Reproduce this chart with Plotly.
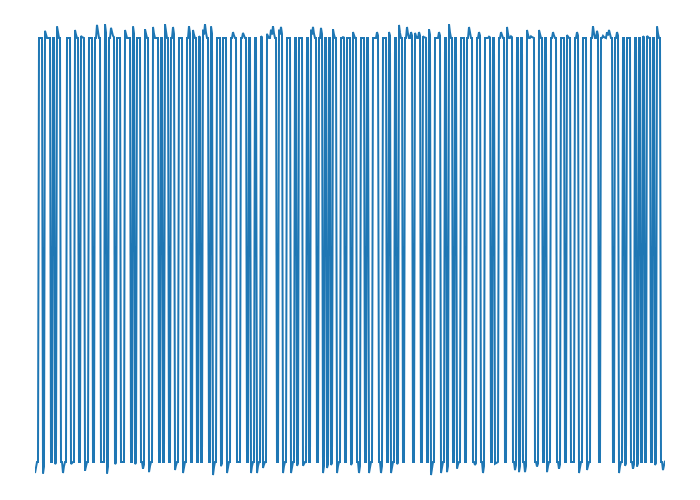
import plotly.graph_objects as go

# Signal values (one sample per step)
signal = [
    -0.026, -0.01, 0, 0, 1, 1, 1, 1, -0.028, -0.011, 1.017, 1.007, 1, 1, 1, 1, 0, 0, 1, 1,
    -0.005, -0.002, 1.028, 1.011, 1, 1, 0, 0, -0.026, -0.01, 0, 0, 1, 1, 1, 1, -0.005, -0.002, 0, 0,
    1.019, 1.008, 1, 1, 0, 0, 1.005, 1.002, 1, 1, -0.021, -0.008, 0, 0, 1, 1, 1, 1, 0, 0,
    1, 1, 1.031, 1.012, 1, 1, 0, 0, 0, 0, 1.033, 1.013, -0.028, -0.011, 1, 1, 1.024, 1.01, 1.005, 1.002,
    -0.005, -0.002, 1, 1, 1, 1, 0, 0, 0, 0, 1.019, 1.008, 1, 1, 1, 1, 0, 0, 1.028, 1.011,
    -0.005, -0.002, 1, 1, 1, 1, 0, 0, -0.016, -0.006, 1.021, 1.008, 1, 1, -0.024, -0.01, 0, 0, 1.026, 1.01,
    1, 1, 1, 1, 0, 0, 1, 1, 0, 0, 1.033, 1.013, 1, 1, 0, 0, 1, 1, 1.026, 1.01,
    -0.019, -0.008, 0, 0, 1, 1, 1, 1, -0.026, -0.01, 0, 0, 1, 1, 1.028, 1.011, 0, 0, 1.019, 1.008,
    1, 1, 0, 0, 1.004, 1.002, 0, 0, 1.02, 1.008, 1.033, 1.013, 1, 1, 0, 0, 1.028, 1.011, -0.031, -0.012,
    0, 0, 1, 1, 1, 1, -0.01, -0.004, 1, 1, 1, 1, -0.026, -0.01, 0, 0, 1, 1, 1.014, 1.006,
    1, 1, 0, 0, 0, 0, 1, 1, 1.012, 1.005, 1, 1, 0, 0, 1, 1, -0.026, -0.01, 0, 0,
    1, 1, -0.026, -0.01, 0, 0, 1.004, 1.002, -0.014, -0.006, 0, 0, 1.01, 1.004, 1, 1, 1.02, 1.008, 1.028, 1.011,
    1, 1, 0, 0, 1.02, 1.008, 1.026, 1.01, -0.026, -0.01, 0, 0, 1, 1, 1, 1, -0.026, -0.01, 0, 0,
    1, 1, -0.009, -0.004, 1, 1, 1, 1, -0.009, -0.004, 0, 0, 1, 1, 0, 0, 1.02, 1.008, 1.026, 1.01,
    1, 1, 0, 0, 1, 1, 1.024, 1.01, -0.026, -0.01, 1, 1, -0.014, -0.006, 1, 1, -0.007, -0.003, 1.021, 1.008,
    1, 1, -0.026, -0.01, 0, 0, 1, 1, 1.002, 1.001, 0, 0, 1, 1, 1, 1, -0.007, -0.003, 1.014, 1.006,
    1, 1, 0, 0, -0.026, -0.01, 1, 1, 1, 1, 0, 0, 1, 1, -0.026, -0.01, 0, 0, 1, 1,
    1, 1, 1.014, 1.006, 0, 0, -0.026, -0.01, 1, 1, 1, 1, 0, 0, 1.014, 1.006, -0.026, -0.01, 0, 0,
    1, 1, -0.005, -0.002, 1.031, 1.012, 1, 1, 0, 0, 1, 1, 1.026, 1.01, 1, 1, 1.014, 1.006, 0, 0,
    1.012, 1.005, 1, 1, 1.014, 1.006, 0, 0, 1.004, 1.002, 1, 1, 0, 0, 1.021, 1.008, -0.031, -0.012, 0, 0,
    1, 1, 1, 1, 1.014, 1.006, -0.026, -0.01, 0, 0, 1, 1, -0.024, -0.01, 1.033, 1.013, 1, 1, 0, 0,
    1, 1, -0.016, -0.006, 0, 0, 1, 1, 1, 1, 0, 0, 1, 1, 1.026, 1.01, 1, 1, 0, 0,
    -0.007, -0.003, 1, 1, 1.014, 1.006, 0, 0, -0.026, -0.01, 1, 1, 1, 1, 1.003, 1.001, 0, 0, 1, 1,
    -0.004, -0.002, 0, 0, 1, 1, 1.014, 1.006, 1, 1, 0, 0, 1.026, 1.01, 1, 1, 1.004, 1.002, 0, 0,
    -0.019, -0.008, 1, 1, -0.024, -0.01, 1, 1, 0, 0, -0.024, -0.01, 1.019, 1.008, 1, 1, 1.004, 1.002, 1, 1,
    0, 0, -0.011, -0.004, 1.019, 1.008, 1, 1, 0, 0, 1, 1, -0.024, -0.01, 0, 0, 1, 1, 1.014, 1.006,
    1, 1, 0, 0, -0.016, -0.006, 1, 1, 1, 1, 0, 0, 1.007, 1.003, 1, 1, 0, 0, 0, 0,
    1, 1, 1.014, 1.006, -0.026, -0.01, 0, 0, 1, 1, 1, 1, -0.019, -0.008, 0, 0, 1, 1, 1.028, 1.011,
    1, 1, 1.017, 1.007, 0, 0, 1, 1, 1.005, 1.002, 1, 1, 1.014, 1.006, 1.019, 1.008, 1, 1, 0, 0,
    1, 1, 1.014, 1.006, -0.026, -0.01, 0, 0, 1, 1, -0.009, -0.004, 1, 1, 1, 1, 0, 0, -0.016, -0.006,
    1, 1, -0.011, -0.004, 1, 1, 0, 0, 1.004, 1.002, 0, 0, 1.005, 1.002, 1, 1, 0, 0, 1, 1,
    -0.007, -0.003, 1.028, 1.011, 1, 1, 0, 0, -0.019, -0.008, 0.003,
]
sample = list(range(len(signal)))

fig = go.Figure()
fig.add_trace(go.Scatter(
    x=sample, y=signal, mode="lines",
    line=dict(color="#1f77b4", width=2),
    hoverinfo="skip", showlegend=False,
))
fig.update_layout(
    width=700, height=500,
    margin=dict(l=35, r=35, t=20, b=20),
    paper_bgcolor="white", plot_bgcolor="white",
    xaxis=dict(visible=False, range=[0, len(signal) - 1]),
    yaxis=dict(visible=False, range=[-0.0425, 1.0425]),
)
fig.write_html("out.html")
